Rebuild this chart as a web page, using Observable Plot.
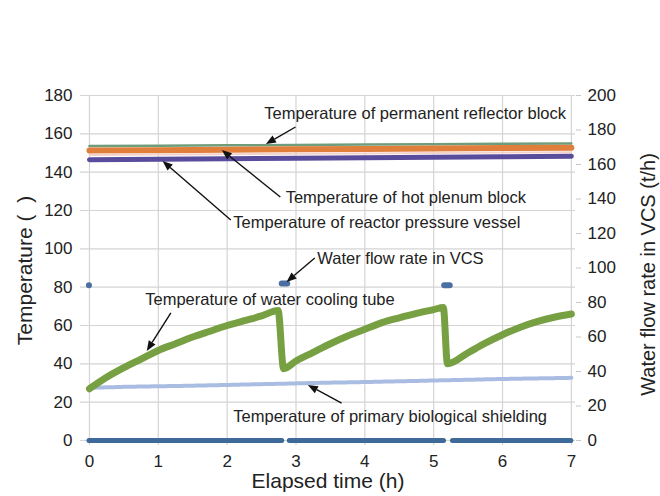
<!DOCTYPE html>
<html>
<head>
<meta charset="utf-8">
<script src="https://cdn.jsdelivr.net/npm/d3@7"></script>
<script src="https://cdn.jsdelivr.net/npm/@observablehq/plot@0.6"></script>
<style>
  html, body { margin: 0; padding: 0; background: #fff; }
  #chart svg { display: block; }
</style>
</head>
<body>
<div id="chart"></div>
<script>
// ---- data ----
const hours = [0, 1, 2, 3, 4, 5, 6, 7];
const reflectorTemp = [153.6, 153.8, 154.0, 154.2, 154.4, 154.6, 154.8, 155.0];
const plenumTemp    = [151.3, 151.5, 151.7, 151.9, 152.1, 152.4, 152.6, 152.8];
const faintTemp     = [149.0, 149.2, 149.4, 149.6, 149.8, 150.0, 150.2, 150.4];
const vesselTemp    = [146.5, 146.8, 147.0, 147.2, 147.5, 147.8, 148.0, 148.3];

const coolTime = [0, 0.25, 0.5, 0.75, 1, 1.25, 1.5, 1.75, 2, 2.25, 2.5, 2.74,
                  2.82, 3, 3.25, 3.5, 3.75, 4, 4.25, 4.5, 4.75, 5, 5.14,
                  5.2, 5.5, 5.75, 6, 6.25, 6.5, 6.75, 7];
const coolTemp = [27, 33, 38, 42.5, 47, 50.5, 54, 57, 60, 62.5, 65, 67.8,
                  37.5, 41.5, 46, 50.5, 54.5, 58, 61.5, 64, 66.3, 68.3, 69.4,
                  40, 45.8, 50.8, 55.2, 59, 62, 64.3, 66];

const shieldTime = [0, 0.5, 1, 1.5, 2, 2.5, 3, 3.5, 4, 4.5, 5, 5.5, 6, 6.5, 7];
const shieldTemp = [27.5, 28, 28.3, 28.6, 29, 29.4, 29.8, 30.2, 30.5, 30.9, 31.3, 31.7, 32.1, 32.4, 32.7];

// water flow rate in VCS (t/h): zero-flow periods and pumping periods
const zeroFlowStart = [0, 2.91, 5.28];
const zeroFlowEnd   = [2.80, 5.15, 7.0];
const pumpStart = [0, 2.80, 5.16];
const pumpEnd   = [0, 2.88, 5.24];
const pumpFlow  = [90, 91, 90];

const leftTicks  = [0, 20, 40, 60, 80, 100, 120, 140, 160, 180];
const rightTicks = [0, 20, 40, 60, 80, 100, 120, 140, 160, 180, 200];
const xTicks = [0, 1, 2, 3, 4, 5, 6, 7];

const annLabels = [
  "Temperature of permanent reflector block",
  "Temperature of hot plenum block",
  "Temperature of reactor pressure vessel",
  "Water flow rate in VCS",
  "Temperature of water cooling tube",
  "Temperature of primary biological shielding"
];
const annTextX = [2.54, 2.85, 2.09, 3.31, 0.81, 2.09];
const annTextY = [170.6, 126.8, 113.7, 95.0, 73.6, 12.5];
const annTailX = [3.00, 2.78, 2.06, 3.28, 1.19, 3.67];
const annTailY = [163.3, 126.8, 114.8, 95.0, 66.3, 19.3];
const annHeadX = [2.57, 1.93, 1.07, 2.87, 0.84, 3.18];
const annHeadY = [154.4, 151.3, 145.6, 82.4, 46.5, 28.7];

// ---- derived tables ----
const FLOW_K = 180 / 200; // right axis (t/h) to left axis units
const series = (name, xs, ys) => xs.map((x, i) => ({name, x, y: ys[i]}));
const reflector = series("reflector", hours, reflectorTemp);
const plenum = series("plenum", hours, plenumTemp);
const faint = series("faint", hours, faintTemp);
const vessel = series("vessel", hours, vesselTemp);
const cooling = series("cooling", coolTime, coolTemp);
const shield = series("shield", shieldTime, shieldTemp);
const zeroFlow = zeroFlowStart.map((s, i) => ({x1: s, x2: zeroFlowEnd[i], flow: 0}));
const pump = pumpStart.map((s, i) => ({x1: s, x2: pumpEnd[i], flow: pumpFlow[i]}));
const ann = annLabels.map((label, i) => ({
  label, tx: annTextX[i], ty: annTextY[i],
  x1: annTailX[i], y1: annTailY[i], x2: annHeadX[i], y2: annHeadY[i]
}));

// custom arrow mark with filled heads
function arrows(index, scales) {
  const g = d3.create("svg:g");
  for (const a of ann) {
    const x1 = scales.x(a.x1), y1 = scales.y(a.y1);
    const x2 = scales.x(a.x2), y2 = scales.y(a.y2);
    const ang = Math.atan2(y2 - y1, x2 - x1);
    const L = 10, W = 4;
    const bx = x2 - L * Math.cos(ang), by = y2 - L * Math.sin(ang);
    g.append("line").attr("x1", x1).attr("y1", y1).attr("x2", bx).attr("y2", by)
      .attr("stroke", "#111").attr("stroke-width", 1.4);
    const px = -Math.sin(ang) * W, py = Math.cos(ang) * W;
    g.append("path")
      .attr("d", `M${x2},${y2}L${bx + px},${by + py}L${bx - px},${by - py}Z`)
      .attr("fill", "#111");
  }
  return g.node();
}

const chart = Plot.plot({
  width: 660,
  height: 496,
  marginTop: 95,
  marginBottom: 51,
  marginLeft: 80,
  marginRight: 85,
  style: {fontFamily: "'Liberation Sans', Arial, sans-serif", fontSize: "17px", color: "#222", background: "#fff"},
  x: {domain: [-0.13, 7.06], axis: null},
  y: {domain: [-2.6, 180], axis: null},
  marks: [
    Plot.gridY(leftTicks, {stroke: "#d4d4d4", strokeOpacity: 1, strokeWidth: 1.2}),
    Plot.gridX(xTicks, {stroke: "#d4d4d4", strokeOpacity: 1, strokeWidth: 1.2}),
    Plot.axisY(leftTicks, {anchor: "left", tickSize: 0, tickPadding: 8, fontSize: 17}),
    Plot.axisY(rightTicks.map(v => v * FLOW_K), {
      anchor: "right", tickSize: 5, tickPadding: 7, stroke: "#c8c8c8", fill: "#222", fontSize: 17,
      tickFormat: d => String(Math.round(d / FLOW_K))
    }),
    Plot.axisX(xTicks, {anchor: "bottom", tickSize: 0, tickPadding: 9, fontSize: 17}),
    // primary biological shielding
    Plot.line(shield, {x: "x", y: "y", stroke: "#a9bde2", strokeWidth: 4, strokeDasharray: "3 1"}),
    // water cooling tube
    Plot.line(cooling, {x: "x", y: "y", curve: "monotone-x", stroke: "#77a043", strokeWidth: 7, strokeLinejoin: "round", strokeLinecap: "round"}),
    // water flow rate (right axis)
    Plot.ruleY(zeroFlow, {y: d => d.flow * FLOW_K, x1: "x1", x2: "x2", stroke: "#3e6a9a", strokeWidth: 5, strokeLinecap: "round"}),
    Plot.ruleY(pump, {y: d => d.flow * FLOW_K, x1: "x1", x2: "x2", stroke: "#4a6fa3", strokeWidth: 6, strokeLinecap: "round"}),
    // top temperatures
    Plot.line(reflector, {x: "x", y: "y", stroke: "#6f9c7a", strokeWidth: 2.5}),
    Plot.line(plenum, {x: "x", y: "y", stroke: "#e07e3c", strokeWidth: 6}),
    Plot.line(faint, {x: "x", y: "y", stroke: "#f3d2cc", strokeWidth: 2}),
    Plot.line(vessel, {x: "x", y: "y", stroke: "#5a4c9c", strokeWidth: 5}),
    // annotations
    arrows,
    Plot.text(ann, {x: "tx", y: "ty", text: "label", textAnchor: "start", fontSize: 16.5, fill: "#222"}),
    // axis titles
    Plot.text(["Temperature (\u00a0\u00a0)"], {text: d => d, frameAnchor: "left", textAnchor: "middle", lineAnchor: "middle", dx: -55, rotate: -90, fontSize: 21, fill: "#222"}),
    Plot.text(["Water flow rate in VCS (t/h)"], {text: d => d, frameAnchor: "right", textAnchor: "middle", lineAnchor: "middle", dx: 73, dy: 4, rotate: -90, fontSize: 20, fill: "#222"}),
    Plot.text(["Elapsed time (h)"], {text: d => d, frameAnchor: "bottom", textAnchor: "middle", lineAnchor: "middle", dy: 36, fontSize: 21, fill: "#222"})
  ]
});
document.getElementById("chart").appendChild(chart);
</script>
</body>
</html>
